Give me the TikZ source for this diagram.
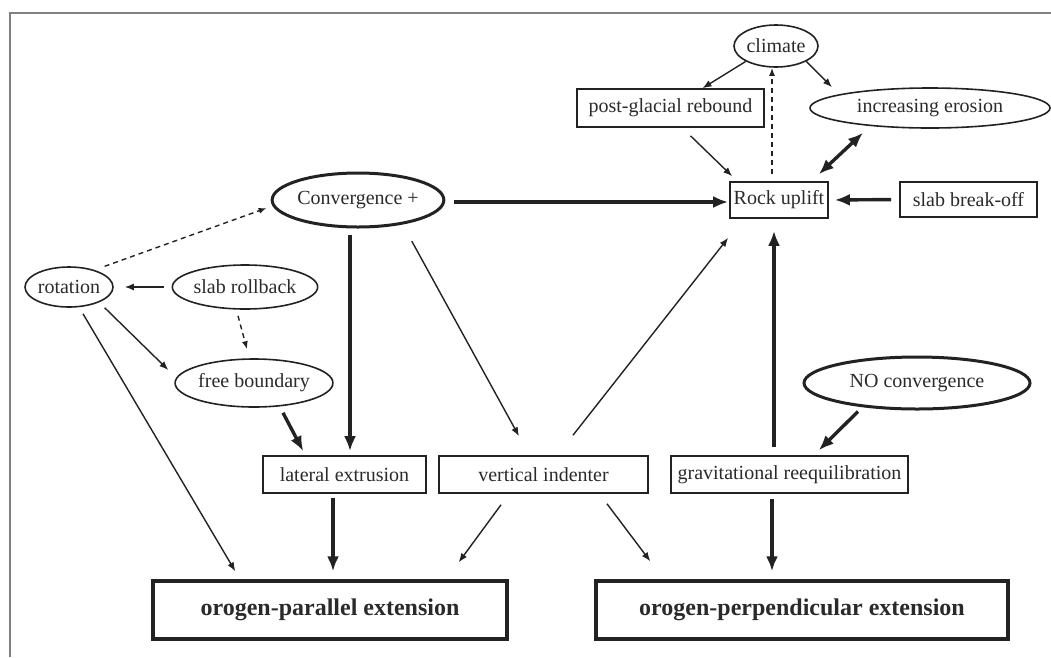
\documentclass[tikz,border=0pt]{standalone}
\usepackage{fontspec}
\setmainfont{Liberation Serif}
\usetikzlibrary{arrows.meta,shapes.geometric}
\definecolor{ink}{HTML}{222222}
\definecolor{txt}{HTML}{2A2A2A}
\tikzset{
  every node/.style={text=txt, font=\fontsize{20}{24}\selectfont, inner sep=0pt},
  rbox/.style={draw=ink, line width=1.6pt, rectangle},
  bigbox/.style={draw=ink, line width=3.4pt, rectangle, font=\fontsize{24}{28}\selectfont\bfseries},
  oval/.style={draw=ink, line width=1.6pt, ellipse},
  boldoval/.style={draw=ink, line width=3pt, ellipse},
  thin/.style={draw=ink, line width=1.4pt, -{Latex[length=9pt,width=7pt]}},
  thickarr/.style={draw=ink, line width=3.4pt, -{Latex[length=15pt,width=12pt]}},
  dasharr/.style={draw=ink, line width=1.4pt, dash pattern=on 5pt off 4pt, -{Latex[length=8pt,width=6pt]}},
}
\begin{document}
\begin{tikzpicture}[x=1pt,y=-1pt]
\useasboundingbox (0,0) rectangle (1051,657);
\draw[gray, line width=2.2pt] (10,657) -- (10,13) -- (1051,13);

% nodes
\node[oval, minimum width=84, minimum height=42] (climate) at (776,46) {climate};
\node[rbox, minimum width=187, minimum height=38] (pgr) at (670.5,108) {post-glacial rebound};
\node[oval, minimum width=240, minimum height=40] (ie) at (930,108) {increasing erosion};
\node[rbox, minimum width=98, minimum height=36] (ru) at (779,200) {Rock uplift};
\node[rbox, minimum width=137, minimum height=35] (sbo) at (968.5,199.5) {slab break-off};
\node[boldoval, minimum width=132, minimum height=54] (conv) at (358,200) {Convergence +};
\node[oval, minimum width=84, minimum height=40] (rot) at (69,287) {rotation};
\node[oval, minimum width=130, minimum height=44] (sr) at (245,287) {slab rollback};
\node[oval, minimum width=132, minimum height=48] (fb) at (254,383) {free boundary};
\node[boldoval, minimum width=226, minimum height=52] (noc) at (917,383) {NO convergence};
\node[rbox, minimum width=163, minimum height=37] (le) at (344.5,474.5) {lateral extrusion};
\node[rbox, minimum width=209, minimum height=37] (vi) at (543.5,474.5) {vertical indenter};
\node[rbox, minimum width=237, minimum height=37] (gr) at (789.5,474.5) {gravitational reequilibration};
\node[bigbox, minimum width=354, minimum height=58] (op) at (330,610) {orogen-parallel extension};
\node[bigbox, minimum width=412, minimum height=58] (opp) at (802,610) {orogen-perpendicular extension};

% connectors
\draw[thin] (climate.south west) -- ([xshift=32]pgr.north);
\draw[thin] (climate.south east) -- ([xshift=-98]ie.north);
\draw[thin] ([xshift=20,yshift=-8]pgr.south) -- ([xshift=3,yshift=5]ru.north west);
\draw[dasharr] ([xshift=-7,yshift=7]ru.north) -- ([xshift=-4]climate.south);
\draw[thickarr, {Latex[length=15pt,width=12pt]}-{Latex[length=15pt,width=12pt]}] ([xshift=-10,yshift=7]ru.north east) -- ([xshift=-67,yshift=-4]ie.south);
\draw[thickarr, shorten <=8pt, shorten >=6pt] (sbo.west) -- (ru.east);
\draw[thickarr, shorten <=9pt, shorten >=1pt] ([yshift=-2]conv.east) -- ([yshift=-2]ru.west);
\draw[dasharr] ([xshift=4,yshift=6]rot.north east) -- ([xshift=-4,yshift=-8]conv.west);
\draw[thin, shorten <=8pt, shorten >=11pt] (sr.west) -- (rot.east);
\draw[dasharr] ([xshift=-7,yshift=-6]sr.south) -- ([xshift=-7,yshift=9]fb.north);
\draw[thin] ([xshift=4,yshift=-6]rot.south east) -- ([xshift=-6,yshift=13]fb.west);
\draw[thin] ([xshift=14,yshift=-6]rot.south) -- ([xshift=84,yshift=8]op.north west);
\draw[thickarr] ([xshift=-8,yshift=-6]conv.south) -- ([xshift=5.5,yshift=4]le.north);
\draw[thin] ([xshift=-8,yshift=-21]conv.south east) -- ([xshift=-24.5,yshift=19]vi.north);
\draw[thickarr] ([xshift=29,yshift=-5]fb.south) -- ([xshift=41,yshift=4]le.north west);
\draw[thickarr] ([xshift=-11.5,yshift=-4]le.south) -- ([xshift=3,yshift=8]op.north);
\draw[thin] ([xshift=-42.5,yshift=-11]vi.south) -- ([xshift=-50,yshift=17]op.north east);
\draw[thin] ([xshift=63.5,yshift=-10]vi.south) -- ([xshift=56,yshift=18]opp.north west);
\draw[thin] ([xshift=29.5,yshift=20]vi.north) -- ([xshift=-1,yshift=-19]ru.south west);
\draw[thickarr] ([xshift=-15.5,yshift=8]gr.north) -- ([xshift=-5,yshift=-12]ru.south);
\draw[thickarr] ([xshift=-17.5,yshift=-5]gr.south) -- ([xshift=-30,yshift=8]opp.north);
\draw[thickarr] ([xshift=-59,yshift=-1]noc.south) -- ([xshift=-90,yshift=5]gr.north east);
\end{tikzpicture}
\end{document}
